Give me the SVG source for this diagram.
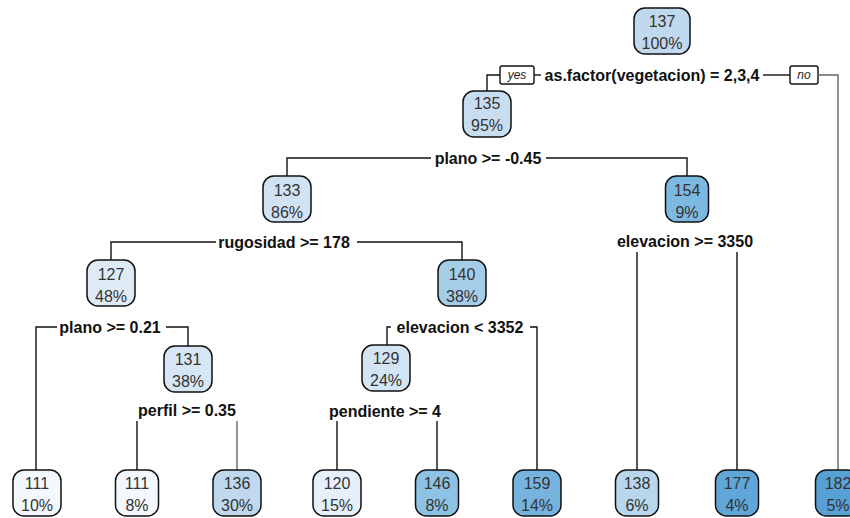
<svg xmlns="http://www.w3.org/2000/svg" width="850" height="518" viewBox="0 0 850 518">
<style>
.bg{fill:#ffffff}
.nd rect{stroke:#111;stroke-width:1.5}
.nd text{font-family:"Liberation Sans",Arial,sans-serif;font-size:16px;fill:#333;text-anchor:middle}
.sp{font-family:"Liberation Sans",Arial,sans-serif;font-size:16px;font-weight:bold;fill:#111;text-anchor:middle}
.yn{font-family:"Liberation Sans",Arial,sans-serif;font-size:12px;font-style:italic;fill:#222;text-anchor:middle}
.cn path{fill:none;stroke:#111;stroke-width:1.4}
.cn path.g{stroke:#666}
.cn rect{fill:#fff;stroke:#111;stroke-width:1.4}
</style>
<rect class="bg" x="0" y="0" width="850" height="518"/>
<g id="connectors" class="cn">
<path d="M500 75 H487 V91"/>
<rect x="500" y="66" width="34" height="18" rx="2"/>
<path d="M534 75 H541"/>
<path d="M763 75 H790"/>
<rect x="790" y="66" width="28" height="18" rx="2"/>
<path class="g" d="M818 75 H838 V470"/>
<path d="M287 176 V158 H431"/>
<path d="M546 158 H687 V176"/>
<path d="M111 260 V242 H216"/>
<path d="M357 242 H462 V260"/>
<path d="M36 470 V327 H57"/>
<path d="M166 327 H188 V346"/>
<path d="M387 345 V327 H391"/>
<path d="M530 327 H537 V470"/>
<path d="M137 421 V470"/>
<path class="g" d="M237 421 V470"/>
<path d="M337 421 V470"/>
<path d="M437 421 V470"/>
<path d="M637 252 V470"/>
<path d="M737 252 V470"/>
</g>
<g id="labels">
<text class="yn" x="517" y="79">yes</text>
<text class="yn" x="804" y="79">no</text>
<text class="sp" x="652" y="81">as.factor(vegetacion) = 2,3,4</text>
<text class="sp" x="488" y="164">plano &gt;= -0.45</text>
<text class="sp" x="284" y="248">rugosidad &gt;= 178</text>
<text class="sp" x="685" y="247">elevacion &gt;= 3350</text>
<text class="sp" x="110" y="333">plano &gt;= 0.21</text>
<text class="sp" x="460" y="333">elevacion &lt; 3352</text>
<text class="sp" x="187" y="416">perfil &gt;= 0.35</text>
<text class="sp" x="385" y="417">pendiente &gt;= 4</text>
</g>
<g id="n1" class="nd"><rect x="634" y="8" width="56" height="46" rx="11" fill="#c0d9ee"/><text x="662" y="27">137</text><text x="662" y="49">100%</text></g>
<g id="n2" class="nd"><rect x="463" y="91" width="48" height="46" rx="11" fill="#c8ddf0"/><text x="487" y="109">135</text><text x="487" y="131">95%</text></g>
<g id="n4" class="nd"><rect x="263" y="176" width="48" height="46" rx="11" fill="#d0e2f3"/><text x="287" y="196">133</text><text x="287" y="218">86%</text></g>
<g id="n5" class="nd"><rect x="665.5" y="176" width="43" height="46" rx="11" fill="#7db8e0"/><text x="687" y="196">154</text><text x="687" y="218">9%</text></g>
<g id="n8" class="nd"><rect x="87" y="260" width="48" height="46" rx="11" fill="#deebf7"/><text x="111" y="280">127</text><text x="111" y="302">48%</text></g>
<g id="n9" class="nd"><rect x="438" y="260" width="48" height="46" rx="11" fill="#a5cde8"/><text x="462" y="280">140</text><text x="462" y="302">38%</text></g>
<g id="n17" class="nd"><rect x="164" y="346" width="48" height="46" rx="11" fill="#d6e6f4"/><text x="188" y="365">131</text><text x="188" y="387">38%</text></g>
<g id="n18" class="nd"><rect x="362" y="345" width="48" height="46" rx="11" fill="#d3e4f3"/><text x="386" y="364">129</text><text x="386" y="386">24%</text></g>
<g id="n16" class="nd"><rect x="13" y="470" width="48" height="46" rx="11" fill="#f2f8fd"/><text x="37" y="489">111</text><text x="37" y="511">10%</text></g>
<g id="n34" class="nd"><rect x="115.5" y="470" width="43" height="46" rx="11" fill="#f2f8fd"/><text x="137" y="489">111</text><text x="137" y="511">8%</text></g>
<g id="n35" class="nd"><rect x="213" y="470" width="48" height="46" rx="11" fill="#bfd8ee"/><text x="237" y="489">136</text><text x="237" y="511">30%</text></g>
<g id="n36" class="nd"><rect x="313" y="470" width="48" height="46" rx="11" fill="#e6f0fa"/><text x="337" y="489">120</text><text x="337" y="511">15%</text></g>
<g id="n37" class="nd"><rect x="415.5" y="470" width="43" height="46" rx="11" fill="#8ec2e4"/><text x="437" y="489">146</text><text x="437" y="511">8%</text></g>
<g id="n19" class="nd"><rect x="513" y="470" width="48" height="46" rx="11" fill="#76b3de"/><text x="537" y="489">159</text><text x="537" y="511">14%</text></g>
<g id="n10" class="nd"><rect x="615.5" y="470" width="43" height="46" rx="11" fill="#b8d6ec"/><text x="637" y="489">138</text><text x="637" y="511">6%</text></g>
<g id="n11" class="nd"><rect x="715.5" y="470" width="43" height="46" rx="11" fill="#60a6d8"/><text x="737" y="489">177</text><text x="737" y="511">4%</text></g>
<g id="n3" class="nd"><rect x="815.5" y="470" width="43" height="46" rx="11" fill="#58a1d6"/><text x="838" y="489">182</text><text x="838" y="511">5%</text></g>
</svg>
